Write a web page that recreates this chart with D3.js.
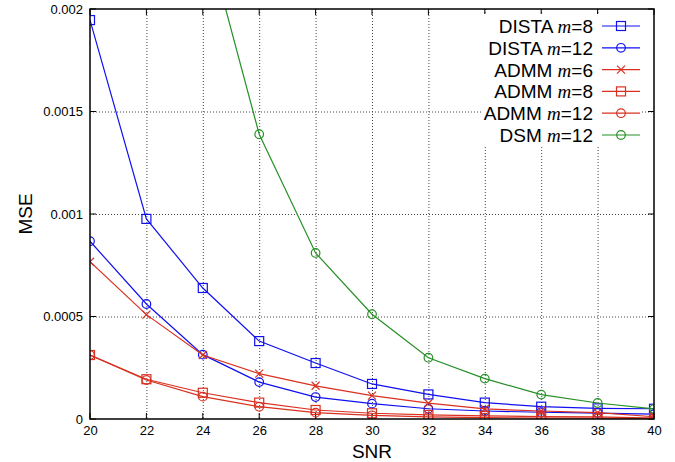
<!DOCTYPE html>
<html><head><meta charset="utf-8">
<script src="https://cdn.jsdelivr.net/npm/d3@7"></script>
<style>body{margin:0;background:#fff}svg{display:block}</style>
</head><body>
<svg id="c" width="675" height="462"></svg>
<script>
const snr = [20,22,24,26,28,30,32,34,36,38,40];
const xTicks = [20,22,24,26,28,30,32,34,36,38,40];
const yTicks = [0,0.0005,0.001,0.0015,0.002];
const yTickLabels = ["0","0.0005","0.001","0.0015","0.002"];

const distaM8  = [0.001946,0.000976,0.000639,0.000380,0.000273,0.000171,0.000120,0.000080,0.000060,0.000052,0.000050];
const distaM12 = [0.000867,0.000561,0.000314,0.000180,0.000107,0.000075,0.000050,0.000039,0.000033,0.000029,0.000024];
const admmM6   = [0.000767,0.000509,0.000312,0.000221,0.000162,0.000114,0.000077,0.000049,0.000039,0.000031,0.000011];
const admmM8   = [0.000312,0.000194,0.000128,0.000080,0.000044,0.000028,0.000020,0.000015,0.000012,0.000010,0.000004];
const admmM12  = [0.000312,0.000190,0.000109,0.000060,0.000031,0.000018,0.000010,0.000007,0.000005,0.000004,0.000003];
const dsmSnr   = [24,26,28,30,32,34,36,38,40];
const dsmM12   = [0.002416,0.001389,0.000810,0.000511,0.000299,0.000197,0.000119,0.000078,0.000049];

const seriesNames = ["DISTA","DISTA","ADMM","ADMM","ADMM","DSM"];
const seriesM = ["8","12","6","8","12","12"];
const BLUE="#1010f0", RED="#d93020", GREEN="#259025";
const series = [
  {x:snr, y:distaM8, color:BLUE, mark:"square"},
  {x:snr, y:distaM12, color:BLUE, mark:"circle"},
  {x:snr, y:admmM6, color:RED, mark:"cross"},
  {x:snr, y:admmM8, color:RED, mark:"square"},
  {x:snr, y:admmM12, color:RED, mark:"circle"},
  {x:dsmSnr, y:dsmM12, color:GREEN, mark:"circle"}
];

const L=90,R=654,T=9,B=419;
const x=d3.scaleLinear().domain([20,40]).range([L,R]);
const y=d3.scaleLinear().domain([0,0.002]).range([B,T]);
const svg=d3.select("#c");
const FONT="'Liberation Sans', Arial, sans-serif";

svg.append("defs").append("clipPath").attr("id","clip")
  .append("rect").attr("x",L).attr("y",T).attr("width",R-L).attr("height",B-T);

// grid
const grid=svg.append("g").attr("stroke","#444").attr("stroke-width",1).attr("stroke-dasharray","1,2");
xTicks.slice(1,-1).forEach(v=>grid.append("line").attr("x1",x(v)+0.5).attr("x2",x(v)+0.5).attr("y1",T).attr("y2",B));
yTicks.slice(1,-1).forEach(v=>grid.append("line").attr("y1",y(v)+0.5).attr("y2",y(v)+0.5).attr("x1",L).attr("x2",R));

// axes via d3
const xAxis=d3.axisBottom(x).tickValues(xTicks).tickSize(0).tickPadding(7).tickFormat(d3.format("d"));
const gx=svg.append("g").attr("transform",`translate(0,${B})`).call(xAxis);
gx.select(".domain").remove();
gx.selectAll("text").attr("font-family",FONT).attr("font-size",13).attr("fill","#000");
const yAxis=d3.axisLeft(y).tickValues(yTicks).tickSize(0).tickPadding(7).tickFormat((d,i)=>yTickLabels[i]);
const gy=svg.append("g").attr("transform",`translate(${L},0)`).call(yAxis);
gy.select(".domain").remove();
gy.selectAll("text").attr("font-family",FONT).attr("font-size",13).attr("fill","#000");

// inner ticks on all sides
const tk=svg.append("g").attr("stroke","#000").attr("stroke-width",1);
xTicks.forEach(v=>{
  tk.append("line").attr("x1",x(v)).attr("x2",x(v)).attr("y1",B).attr("y2",B-6);
  tk.append("line").attr("x1",x(v)).attr("x2",x(v)).attr("y1",T).attr("y2",T+6);
});
yTicks.forEach(v=>{
  tk.append("line").attr("y1",y(v)).attr("y2",y(v)).attr("x1",L).attr("x2",L+6);
  tk.append("line").attr("y1",y(v)).attr("y2",y(v)).attr("x1",R).attr("x2",R-6);
});

function marker(g,m,cx,cy,color){
  if(m==="square") g.append("rect").attr("x",cx-4.5).attr("y",cy-4.5).attr("width",9).attr("height",9).attr("fill","none").attr("stroke",color).attr("stroke-width",1.2);
  else if(m==="circle") g.append("circle").attr("cx",cx).attr("cy",cy).attr("r",4.3).attr("fill","none").attr("stroke",color).attr("stroke-width",1.2);
  else { g.append("path").attr("d",`M${cx-4},${cy-4}L${cx+4},${cy+4}M${cx-4},${cy+4}L${cx+4},${cy-4}`).attr("stroke",color).attr("stroke-width",1.2); }
}

const plot=svg.append("g").attr("clip-path","url(#clip)");
const line=d3.line().x(d=>x(d[0])).y(d=>y(d[1]));
series.forEach(s=>{
  const pts=s.x.map((v,i)=>[v,s.y[i]]);
  plot.append("path").attr("d",line(pts)).attr("fill","none").attr("stroke",s.color).attr("stroke-width",1.2);
  const mg=plot.append("g");
  pts.forEach(p=>marker(mg,s.mark,x(p[0]),y(p[1]),s.color));
});

// legend
const lg=svg.append("g");
lg.append("rect").attr("x",482).attr("y",14).attr("width",160).attr("height",132).attr("fill","#fff");
series.forEach((s,i)=>{
  const cy=26+i*21.8;
  const t=lg.append("text").attr("x",593).attr("y",cy+7).attr("text-anchor","end")
    .attr("font-family",FONT).attr("font-size",19).attr("fill","#000");
  t.append("tspan").text(seriesNames[i]+" ");
  t.append("tspan").attr("font-family","'Liberation Serif', 'Times New Roman', serif").attr("font-style","italic").text("m");
  t.append("tspan").text("="+seriesM[i]);
  lg.append("line").attr("x1",602).attr("x2",640).attr("y1",cy).attr("y2",cy).attr("stroke",s.color).attr("stroke-width",1.2);
  marker(lg,s.mark,621,cy,s.color);
});

// border
svg.append("rect").attr("x",L).attr("y",T).attr("width",R-L).attr("height",B-T).attr("fill","none").attr("stroke","#000").attr("stroke-width",1.5);

// axis titles
svg.append("text").attr("x",(L+R)/2).attr("y",458).attr("text-anchor","middle").attr("font-family",FONT).attr("font-size",19).text("SNR");
svg.append("text").attr("transform",`translate(32,${(T+B)/2}) rotate(-90)`).attr("text-anchor","middle").attr("font-family",FONT).attr("font-size",19).text("MSE");
</script>
</body></html>
